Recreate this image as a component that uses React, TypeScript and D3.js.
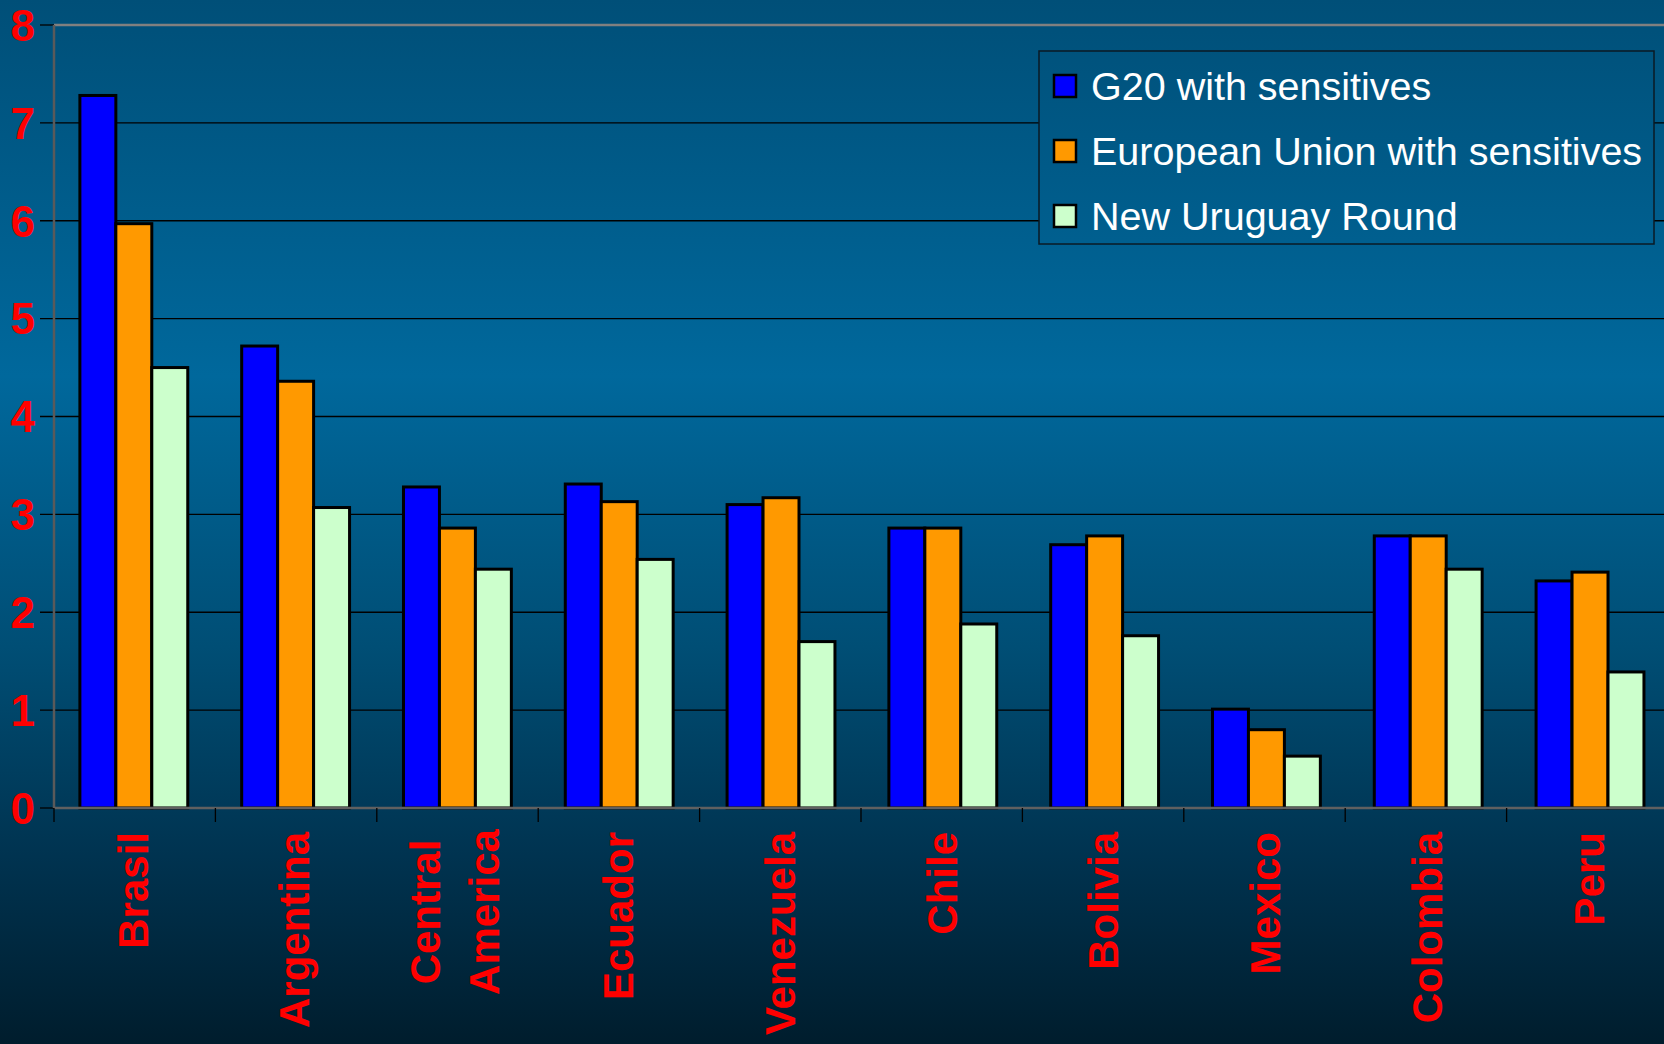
import React from "react";
import * as d3 from "d3";

const categories = [
  ["Brasil"],
  ["Argentina"],
  ["Central", "America"],
  ["Ecuador"],
  ["Venezuela"],
  ["Chile"],
  ["Bolivia"],
  ["Mexico"],
  ["Colombia"],
  ["Peru"],
];
const seriesNames = [
  "G20 with sensitives",
  "European Union with sensitives",
  "New Uruguay Round",
];
const seriesColors = ["#0000ff", "#ff9900", "#ccffcc"];
const g20 = [7.28, 4.72, 3.28, 3.31, 3.1, 2.86, 2.69, 1.01, 2.78, 2.32];
const eu = [5.97, 4.36, 2.86, 3.13, 3.17, 2.86, 2.78, 0.8, 2.78, 2.41];
const nur = [4.5, 3.07, 2.44, 2.54, 1.7, 1.88, 1.76, 0.53, 2.44, 1.39];
const yTicks = [0, 1, 2, 3, 4, 5, 6, 7, 8];

const W = 1664;
const H = 1044;
const left = 54;
const top = 25;
const bottom = 808;
const catW = 161.8;

export default function App() {
  const series = [g20, eu, nur];
  const keys = categories.map((c) => c.join(" "));
  const x = d3
    .scaleBand()
    .domain(keys)
    .range([left, left + catW * keys.length])
    .paddingInner(0)
    .paddingOuter(0);
  const bw = x.bandwidth() / 4.5;
  const y = d3.scaleLinear().domain([0, 8]).range([bottom, top]);
  const font = "'Liberation Sans', Arial, sans-serif";

  return (
    <svg
      width={W}
      height={H}
      style={{ position: "absolute", left: 0, top: 0, display: "block" }}
    >
      <defs>
        <linearGradient id="bg" gradientUnits="userSpaceOnUse" x1="0" y1="0" x2="0" y2={H}>
          <stop offset="0" stopColor="#004f78" />
          <stop offset="0.36" stopColor="#00689c" />
          <stop offset="0.62" stopColor="#004e75" />
          <stop offset="0.82" stopColor="#003350" />
          <stop offset="1" stopColor="#001d2d" />
        </linearGradient>
      </defs>
      <rect width={W} height={H} fill="url(#bg)" />

      {/* gridlines */}
      {yTicks.slice(1, -1).map((t) => (
        <line key={t} x1={left - 14} x2={W} y1={y(t)} y2={y(t)} stroke="#000" strokeWidth={1.3} />
      ))}
      <line x1={left} x2={W} y1={y(8)} y2={y(8)} stroke="#808080" strokeWidth={2.5} />
      <line x1={left - 14} x2={left} y1={y(8)} y2={y(8)} stroke="#000" strokeWidth={1.3} />
      <line x1={left - 14} x2={left} y1={y(0)} y2={y(0)} stroke="#000" strokeWidth={1.3} />
      <line x1={left} x2={left} y1={top} y2={bottom} stroke="#5a5a5a" strokeWidth={2.5} />

      {/* bars */}
      {series.map((vals, si) =>
        vals.map((v, i) => {
          const x0 = (x(keys[i]) as number) + bw * 0.72 + si * bw;
          return (
            <rect
              key={si + "-" + i}
              x={x0}
              y={y(v)}
              width={bw}
              height={y(0) - y(v)}
              fill={seriesColors[si]}
              stroke="#000"
              strokeWidth={3}
            />
          );
        })
      )}

      {/* x axis */}
      <line x1={left} x2={W} y1={bottom} y2={bottom} stroke="#606060" strokeWidth={2.5} />
      {d3.range(keys.length + 1).map((i) => (
        <line
          key={i}
          x1={left + i * 161.4}
          x2={left + i * 161.4}
          y1={bottom}
          y2={bottom + 14}
          stroke="#000"
          strokeWidth={1.3}
        />
      ))}

      {/* y labels */}
      {yTicks.map((t) => (
        <text
          key={t}
          x={35}
          y={y(t)}
          dy="0.36em"
          textAnchor="end"
          fill="#ff0000"
          fontFamily={font}
          fontWeight="bold"
          fontSize={44}
        >
          {t}
        </text>
      ))}

      {/* x labels */}
      {categories.map((lines, i) => {
        const cx = (x(keys[i]) as number) + x.bandwidth() / 2;
        if (lines.length === 1) {
          return (
            <text
              key={i}
              transform={`translate(${cx - 2},832) rotate(-90)`}
              dy="0.35em"
              textAnchor="end"
              fill="#ff0000"
              fontFamily={font}
              fontWeight="bold"
              fontSize={42}
            >
              {lines[0]}
            </text>
          );
        }
        return (
          <text
            key={i}
            transform={`translate(${cx - 4},912) rotate(-90)`}
            textAnchor="middle"
            fill="#ff0000"
            fontFamily={font}
            fontWeight="bold"
            fontSize={42}
          >
            {lines.map((l, li) => (
              <tspan key={li} x={0} y={0} dy={li === 0 ? "-0.35em" : "1.05em"}>
                {l}
              </tspan>
            ))}
          </text>
        );
      })}

      {/* legend */}
      <g>
        <rect x={1039} y={51} width={615} height={193} fill="url(#bg)" stroke="#0a1a24" strokeWidth={1.5} />
        {seriesNames.map((n, i) => (
          <g key={n} transform={`translate(1054,${86 + i * 65})`}>
            <rect x={0} y={-11} width={22} height={22} fill={seriesColors[i]} stroke="#000" strokeWidth={2.5} />
            <text x={37} y={0} dy="0.36em" fill="#fff" fontFamily={font} fontSize={39.5}>
              {n}
            </text>
          </g>
        ))}
      </g>
    </svg>
  );
}
